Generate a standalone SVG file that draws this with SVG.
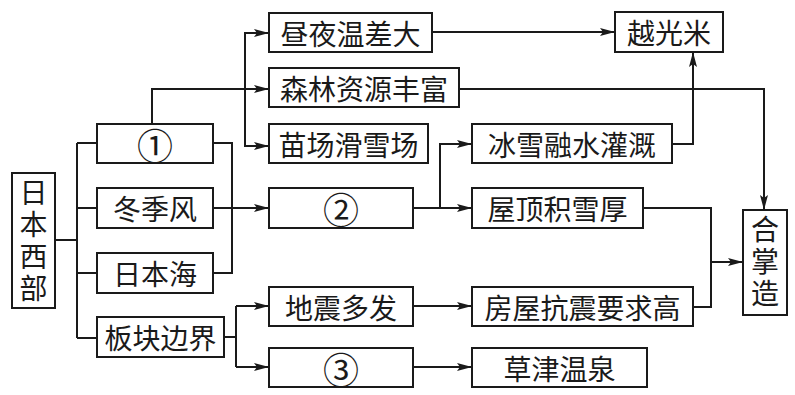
<svg xmlns="http://www.w3.org/2000/svg" width="795" height="395" viewBox="0 0 795 395">
<defs>
<marker id="ah" markerUnits="userSpaceOnUse" markerWidth="16" markerHeight="10" viewBox="0 0 16 10" refX="15" refY="5" orient="auto">
<path d="M0,1 L15,5 L0,9 L3,5 Z" fill="#1a1a1a"/>
</marker>
</defs>
<style>
.box{fill:#fff;stroke:#1a1a1a;stroke-width:2}
.t{font-family:"Noto Sans CJK SC","Noto Sans CJK JP",sans-serif;font-size:28px;fill:#1a1a1a;text-anchor:middle;dominant-baseline:central}
.v{writing-mode:vertical-rl;letter-spacing:4px}
.t.n{font-size:36px}
.c{fill:none;stroke:#1a1a1a;stroke-width:2}
.a{marker-end:url(#ah)}
</style>
<rect width="795" height="395" fill="#fff"/>
<g id="connectors">
<path class="c" d="M55,240 H77 M77,143 V338 M77,143 H97 M77,208 H97 M77,273 H97 M77,338 H97"/>
<path class="c a" d="M152,124 V89 H269"/>
<path class="c a" d="M245,89 V33 H269"/>
<path class="c a" d="M245,89 V146 H269"/>
<path class="c a" d="M432,32 H615"/>
<path class="c a" d="M459,89 H764 V210"/>
<path class="c a" d="M672,144 H693 V52"/>
<path class="c" d="M213,143 H232 V273 H213"/>
<path class="c a" d="M213,208 H269"/>
<path class="c" d="M413,208 H440"/>
<path class="c a" d="M440,208 V144 H472"/>
<path class="c a" d="M440,208 H472"/>
<path class="c" d="M224,337 H236 M236,306 V367"/>
<path class="c a" d="M236,306 H269"/>
<path class="c a" d="M236,367 H269"/>
<path class="c a" d="M413,306 H472"/>
<path class="c a" d="M413,367 H472"/>
<path class="c" d="M643,208 H711 V307 H693"/>
<path class="c a" d="M711,262 H743"/>
</g>
<g id="n-riben">
<rect class="box" x="12" y="173" width="43" height="135"/>
<text class="t v" x="33.5" y="242">日本西部</text>
</g>
<g id="n-1"><rect class="box" x="97" y="124" width="116" height="39"/><text class="t n" x="155" y="143.5">①</text></g>
<g id="n-dongjifeng"><rect class="box" x="97" y="188" width="116" height="40"/><text class="t" x="155" y="208">冬季风</text></g>
<g id="n-ribenhai"><rect class="box" x="97" y="253" width="116" height="40"/><text class="t" x="155" y="273">日本海</text></g>
<g id="n-bankuai"><rect class="box" x="97" y="317" width="127" height="40"/><text class="t" x="160.5" y="337">板块边界</text></g>
<g id="n-zhouye"><rect class="box" x="269" y="13" width="163" height="39"/><text class="t" x="350.5" y="32.5">昼夜温差大</text></g>
<g id="n-senlin"><rect class="box" x="269" y="68" width="190" height="39"/><text class="t" x="364" y="87.5">森林资源丰富</text></g>
<g id="n-miaochang"><rect class="box" x="269" y="124" width="159" height="39"/><text class="t" x="348.5" y="143.5">苗场滑雪场</text></g>
<g id="n-2"><rect class="box" x="269" y="188" width="144" height="40"/><text class="t n" x="341" y="208">②</text></g>
<g id="n-dizhen"><rect class="box" x="269" y="287" width="144" height="39"/><text class="t" x="341" y="306.5">地震多发</text></g>
<g id="n-3"><rect class="box" x="269" y="348" width="144" height="39"/><text class="t n" x="341" y="367.5">③</text></g>
<g id="n-yueguangmi"><rect class="box" x="615" y="12" width="108" height="40"/><text class="t" x="669" y="32">越光米</text></g>
<g id="n-bingxue"><rect class="box" x="472" y="124" width="200" height="39"/><text class="t" x="572" y="143.5">冰雪融水灌溉</text></g>
<g id="n-wuding"><rect class="box" x="472" y="188" width="171" height="40"/><text class="t" x="557.5" y="208">屋顶积雪厚</text></g>
<g id="n-fangwu"><rect class="box" x="472" y="287" width="221" height="39"/><text class="t" x="582.5" y="306.5">房屋抗震要求高</text></g>
<g id="n-caojin"><rect class="box" x="472" y="348" width="175" height="39"/><text class="t" x="559.5" y="367.5">草津温泉</text></g>
<g id="n-hezhangzao">
<rect class="box" x="743" y="210" width="44" height="105"/>
<text class="t v" x="765" y="263">合掌造</text>
</g>
</svg>
